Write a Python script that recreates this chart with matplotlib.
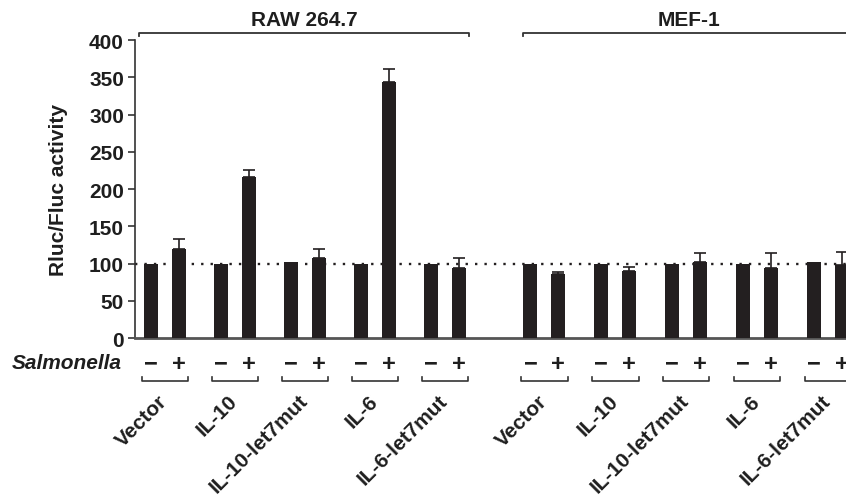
import numpy as np
import matplotlib
matplotlib.use("Agg")
import matplotlib.pyplot as plt

plt.rcParams['font.family'] = ['Liberation Sans', 'DejaVu Sans']
plt.rcParams['font.weight'] = 'bold'

# Data
cells = ["RAW 264.7", "MEF-1"]
constructs = ["Vector", "IL-10", "IL-10-let7mut", "IL-6", "IL-6-let7mut"]
raw_minus = [100, 100, 102, 100, 100]
raw_plus = [120, 216, 107, 344, 94]
raw_plus_err = [13, 9, 12.5, 17, 14]
mef_minus = [100, 100, 100, 100, 101.5]
mef_plus = [86, 89.5, 102, 94, 98.5]
mef_plus_err = [2, 5.5, 12.5, 20.5, 17.5]

col = '#231f20'
tcol = '#1e1e1e'
fig = plt.figure(figsize=(8.46, 5.02), dpi=100)
ax = fig.add_axes([0.1596, 0.3247, 0.8404, 0.5936])

centers = np.concatenate([np.arange(5) * 2.5, 13.55 + np.arange(5) * 2.53])
minus = raw_minus + mef_minus
plus = raw_plus + mef_plus
perr = raw_plus_err + mef_plus_err
w = 0.5
ax.bar(centers - 0.5, minus, width=w, color=col, zorder=3)
ax.bar(centers + 0.5, plus, width=w, color=col, zorder=3,
       yerr=[np.zeros(10), perr], error_kw=dict(ecolor=col, elinewidth=1.2, capsize=4.5, capthick=1.2))

ax.set_xlim(-1.07, 24.32)
ax.set_ylim(0, 400)
ax.axhline(100, color=col, linestyle=(0, (1, 3)), linewidth=1.7, zorder=2)

ax.spines['top'].set_visible(False)
ax.spines['right'].set_visible(False)
ax.spines['left'].set_color('#333333')
ax.spines['left'].set_linewidth(1.2)
ax.spines['bottom'].set_color('#555555')
ax.spines['bottom'].set_linewidth(2)
ax.set_xticks([])
ax.set_yticks(np.arange(0, 401, 50))
ax.tick_params(axis='y', direction='out', length=5, width=1.2, color='#333333',
               labelsize=15, pad=3, labelcolor=tcol)
for t in ax.get_yticklabels():
    t.set_fontweight('bold')
ax.set_ylabel("Rluc/Fluc activity", fontsize=15, fontweight='bold', color=tcol)
ax.yaxis.set_label_coords(-0.094, 0.50)

tr = ax.get_xaxis_transform()
# top brackets
for x0, x1 in [(-0.93, 10.86), (12.79, 24.6)]:
    ax.plot([x0, x0, x1, x1], [1.013, 1.0235, 1.0235, 1.013], color='#333333', lw=1.3,
            transform=tr, clip_on=False)
ax.text(4.97, 1.07, cells[0], transform=tr, ha='center', va='center', fontsize=15,
        fontweight='bold', color=tcol)
ax.text(18.7, 1.07, cells[1], transform=tr, ha='center', va='center', fontsize=15,
        fontweight='bold', color=tcol)

# Salmonella row
ax.text(-0.019, -0.082, "Salmonella", transform=ax.transAxes, ha='right', va='center',
        fontsize=15, fontweight='bold', style='italic', color=tcol)
for i, c in enumerate(centers):
    ax.text(c - 0.5, -0.085, "\u2212", transform=tr, ha='center', va='center', fontsize=17,
            fontweight='bold', color=tcol, clip_on=False)
    ax.text(c + 0.5, -0.085, "+", transform=tr, ha='center', va='center', fontsize=17,
            fontweight='bold', color=tcol, clip_on=False)
    ax.plot([c - 0.83, c - 0.83, c + 0.83, c + 0.83], [-0.132, -0.143, -0.143, -0.132],
            color='#333333', lw=1.2, transform=tr, clip_on=False)
    ax.text(c - 0.25, -0.177, constructs[i % 5], transform=tr, ha='right', va='top',
            rotation=45, rotation_mode='anchor', fontsize=15, fontweight='bold',
            color=tcol, clip_on=False)

fig.savefig("out.png", dpi=100)
